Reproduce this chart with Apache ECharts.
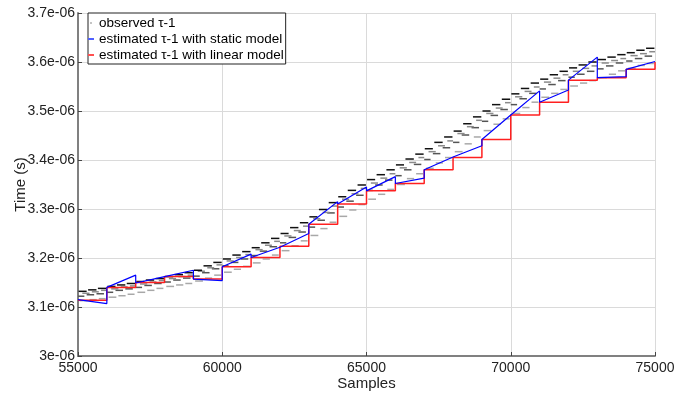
<!DOCTYPE html>
<html>
<head>
<meta charset="utf-8">
<script src="https://cdn.jsdelivr.net/npm/echarts@6/dist/echarts.min.js"></script>
<style>html,body{margin:0;padding:0;background:#fff;}#c{width:689px;height:397px;}</style>
</head>
<body>
<div id="c"></div>
<script>
// Values are in microseconds (axis labels show them as e-06 seconds)
const xTicks = [55000, 60000, 65000, 70000, 75000];
const yTicks = [3.0, 3.1, 3.2, 3.3, 3.4, 3.5, 3.6, 3.7];
const segBounds = [55000,56000,57000,58000,59000,60000,61000,62000,63000,64000,65000,66000,67000,68000,69000,70000,71000,72000,73000,74000,75000];
// linear model: constant value per segment (last value at 75000)
const linearModel = [3.114,3.140,3.150,3.162,3.157,3.182,3.201,3.224,3.269,3.310,3.337,3.352,3.380,3.405,3.442,3.492,3.518,3.563,3.568,3.585,3.600];
// static model: value at start and end of each segment
const staticStart = [3.115,3.140,3.149,3.162,3.157,3.182,3.201,3.224,3.269,3.310,3.337,3.352,3.380,3.405,3.442,3.492,3.518,3.563,3.568,3.585];
const staticEnd   = [3.107,3.165,3.162,3.175,3.154,3.208,3.222,3.250,3.315,3.345,3.366,3.363,3.406,3.429,3.492,3.541,3.543,3.610,3.570,3.601];

// observed: runs of equal values [firstSample, lastSample, value]
const observedDark = [
[55020,55300,3.132],[55350,55640,3.135],[55690,55980,3.138],
[56020,56300,3.142],[56350,56640,3.145],[56690,56980,3.148],
[57020,57300,3.152],[57350,57640,3.155],[57690,57980,3.158],
[58020,58300,3.162],[58350,58640,3.166],[58690,58980,3.170],
[59020,59300,3.175],[59350,59640,3.184],[59690,59980,3.191],
[60020,60300,3.198],[60350,60640,3.206],[60690,60980,3.213],
[61020,61300,3.221],[61350,61640,3.231],[61690,61980,3.240],
[62020,62300,3.250],[62350,62640,3.262],[62690,62980,3.272],
[63020,63300,3.284],[63350,63640,3.299],[63690,63980,3.313],
[64020,64300,3.325],[64350,64640,3.338],[64690,64980,3.349],
[65020,65300,3.360],[65350,65640,3.370],[65690,65980,3.380],
[66020,66300,3.390],[66350,66640,3.402],[66690,66980,3.412],
[67020,67300,3.423],[67350,67640,3.436],[67690,67980,3.447],
[68020,68300,3.459],[68350,68640,3.474],[68690,68980,3.488],
[69020,69300,3.500],[69350,69640,3.513],[69690,69980,3.524],
[70020,70300,3.535],[70350,70640,3.546],[70690,70980,3.557],
[71020,71300,3.565],[71350,71640,3.574],[71690,71980,3.581],
[72020,72300,3.588],[72350,72640,3.594],[72690,72980,3.600],
[73020,73300,3.605],[73350,73640,3.610],[73690,73980,3.615],
[74020,74300,3.619],[74350,74640,3.624],[74690,74980,3.628]
];
const observedGray = [
[55150,55400,3.128],[55480,55720,3.131],[55800,56000,3.134],
[56150,56400,3.137],[56480,56720,3.141],[56800,57000,3.143],
[57150,57400,3.147],[57480,57720,3.151],[57800,58000,3.154],
[58150,58400,3.158],[58480,58720,3.162],[58800,59000,3.165],
[59150,59400,3.173],[59480,59720,3.180],[59800,60000,3.186],
[60150,60400,3.194],[60480,60720,3.201],[60800,61000,3.207],
[61150,61400,3.217],[61480,61720,3.226],[61800,62000,3.234],
[62150,62400,3.245],[62480,62720,3.256],[62800,63000,3.265],
[63150,63400,3.280],[63480,63720,3.293],[63800,64000,3.306],
[64150,64400,3.320],[64480,64720,3.331],[64800,65000,3.342],
[65150,65400,3.353],[65480,65720,3.363],[65800,66000,3.372],
[66150,66400,3.384],[66480,66720,3.395],[66800,67000,3.405],
[67150,67400,3.417],[67480,67720,3.429],[67800,68000,3.439],
[68150,68400,3.454],[68480,68720,3.468],[68800,69000,3.481],
[69150,69400,3.495],[69480,69720,3.506],[69800,70000,3.517],
[70150,70400,3.529],[70480,70720,3.540],[70800,71000,3.549],
[71150,71400,3.559],[71480,71720,3.567],[71800,72000,3.574],
[72150,72400,3.581],[72480,72720,3.587],[72800,73000,3.592],
[73150,73400,3.598],[73480,73720,3.603],[73800,74000,3.607],
[74150,74400,3.613],[74480,74720,3.617],[74800,75000,3.621]
];
const observedMid = [
[55000,55220,3.122],[55300,55560,3.125],[55640,55900,3.127],
[56000,56220,3.130],[56300,56560,3.134],[56640,56900,3.137],
[57000,57220,3.140],[57300,57560,3.144],[57640,57900,3.148],
[58000,58220,3.151],[58300,58560,3.155],[58640,58900,3.159],
[59000,59220,3.163],[59300,59560,3.170],[59640,59900,3.178],
[60000,60220,3.184],[60300,60560,3.191],[60640,60900,3.198],
[61000,61220,3.205],[61300,61560,3.214],[61640,61900,3.223],
[62000,62220,3.231],[62300,62560,3.242],[62640,62900,3.253],
[63000,63220,3.263],[63300,63560,3.277],[63640,63900,3.292],
[64000,64220,3.304],[64300,64560,3.316],[64640,64900,3.328],
[65000,65220,3.338],[65300,65560,3.349],[65640,65900,3.359],
[66000,66220,3.368],[66300,66560,3.380],[66640,66900,3.391],
[67000,67220,3.401],[67300,67560,3.413],[67640,67900,3.425],
[68000,68220,3.436],[68300,68560,3.451],[68640,68900,3.466],
[69000,69220,3.479],[69300,69560,3.491],[69640,69900,3.503],
[70000,70220,3.513],[70300,70560,3.525],[70640,70900,3.536],
[71000,71220,3.545],[71300,71560,3.554],[71640,71900,3.562],
[72000,72220,3.569],[72300,72560,3.575],[72640,72900,3.581],
[73000,73220,3.586],[73300,73560,3.592],[73640,73900,3.598],
[74000,74220,3.602],[74300,74560,3.607],[74640,74900,3.612]
];
const observedLight = [
[55060,55330,3.113],[55400,55650,3.115],[55720,55960,3.117],
[56060,56330,3.120],[56400,56650,3.123],[56720,56960,3.126],
[57060,57330,3.130],[57400,57650,3.134],[57720,57960,3.138],
[58060,58330,3.142],[58400,58650,3.145],[58720,58960,3.148],
[59060,59330,3.153],[59400,59650,3.159],[59720,59960,3.165],
[60060,60330,3.171],[60400,60650,3.177],[60720,60960,3.183],
[61060,61330,3.190],[61400,61650,3.198],[61720,61960,3.206],
[62060,62330,3.215],[62400,62650,3.225],[62720,62960,3.235],
[63060,63330,3.246],[63400,63650,3.260],[63720,63960,3.273],
[64060,64330,3.285],[64400,64650,3.298],[64720,64960,3.309],
[65060,65330,3.320],[65400,65650,3.330],[65720,65960,3.340],
[66060,66330,3.350],[66400,66650,3.362],[66720,66960,3.372],
[67060,67330,3.383],[67400,67650,3.394],[67720,67960,3.405],
[68060,68330,3.417],[68400,68650,3.433],[68720,68960,3.447],
[69060,69330,3.460],[69400,69650,3.473],[69720,69960,3.484],
[70060,70330,3.495],[70400,70650,3.507],[70720,70960,3.518],
[71060,71330,3.528],[71400,71650,3.536],[71720,71960,3.544],
[72060,72330,3.551],[72400,72650,3.557],[72720,72960,3.562],
[73060,73330,3.568],[73400,73650,3.575],[73720,73960,3.582],
[74060,74330,3.587],[74400,74650,3.593],[74720,74960,3.597]
];

const NAME_OBS = 'observed τ-1';
const NAME_STATIC = 'estimated τ-1 with static model';
const NAME_LINEAR = 'estimated τ-1 with linear model';

const redData = segBounds.map((s, i) => [s, linearModel[i]]);
const blueData = [];
for (let i = 0; i < staticStart.length; i++) {
  blueData.push([segBounds[i], staticStart[i]]);
  blueData.push([segBounds[i + 1], staticEnd[i]]);
}

function dashSeries(data, color) {
  return {
    type: 'custom', name: NAME_OBS, data: data, clip: true, z: 2,
    encode: { x: [0, 1], y: 2 },
    renderItem: function (params, api) {
      const p0 = api.coord([api.value(0), api.value(2)]);
      const p1 = api.coord([api.value(1), api.value(2)]);
      return { type: 'line', shape: { x1: p0[0], y1: p0[1], x2: p1[0], y2: p1[1] },
               style: { stroke: color, lineWidth: 1.5 } };
    }
  };
}

const font = 'Liberation Sans, Arial, Helvetica, sans-serif';
const chart = echarts.init(document.getElementById('c'), null, { renderer: 'canvas' });
chart.setOption({
  animation: false,
  backgroundColor: '#fff',
  grid: { left: 78, right: 34, top: 13, bottom: 41, containLabel: false },
  legend: {
    left: 88, top: 13, orient: 'vertical',
    backgroundColor: '#fff', borderColor: '#222', borderWidth: 1,
    padding: [3, 2, 2, 0], itemGap: 2, itemWidth: 6, itemHeight: 2,
    selectedMode: false,
    textStyle: { fontFamily: font, fontSize: 13.5, color: '#000', lineHeight: 14 },
    data: [
      { name: NAME_OBS, icon: 'circle', itemStyle: { color: '#b0b0b0' } },
      { name: NAME_STATIC, icon: 'rect', itemStyle: { color: '#5060ff' } },
      { name: NAME_LINEAR, icon: 'rect', itemStyle: { color: '#ff5050' } }
    ]
  },
  xAxis: {
    type: 'value', min: xTicks[0], max: xTicks[xTicks.length - 1], interval: 5000,
    name: 'Samples', nameLocation: 'middle', nameGap: 20, nameMoveOverlap: false,
    nameTextStyle: { fontFamily: font, fontSize: 15, color: '#222' },
    axisLine: { onZero: false, lineStyle: { color: '#808080', width: 2 } },
    axisTick: { inside: true, length: 4, lineStyle: { color: '#444' } },
    axisLabel: { fontFamily: font, fontSize: 14, color: '#222', margin: 5,
      formatter: function (v) { return String(v); } },
    splitLine: { show: true, lineStyle: { color: '#dadada', width: 1 } }
  },
  yAxis: {
    type: 'value', min: yTicks[0], max: yTicks[yTicks.length - 1], interval: 0.1,
    name: 'Time (s)', nameLocation: 'middle', nameGap: 50, nameRotate: 90, nameMoveOverlap: false,
    nameTextStyle: { fontFamily: font, fontSize: 15, color: '#222' },
    axisLine: { show: true, onZero: false, lineStyle: { color: '#808080', width: 2 } },
    axisTick: { show: true, inside: true, length: 4, lineStyle: { color: '#444' } },
    axisLabel: { fontFamily: font, fontSize: 14, color: '#222', margin: 3,
      formatter: function (v) { return (Math.abs(v - 3) < 1e-9 ? '3' : v.toFixed(1)) + 'e-06'; } },
    splitLine: { show: true, lineStyle: { color: '#dadada', width: 1 } }
  },
  series: [
    dashSeries(observedLight, '#a8a8a8'),
    dashSeries(observedMid, '#555555'),
    dashSeries(observedGray, '#8a8a8a'),
    dashSeries(observedDark, '#111111'),
    { type: 'line', name: NAME_LINEAR, data: redData, step: 'end', showSymbol: false, z: 3,
      lineStyle: { color: '#ff2020', width: 1.5 }, itemStyle: { color: '#ff5050' } },
    { type: 'line', name: NAME_STATIC, data: blueData, showSymbol: false, z: 4,
      lineStyle: { color: '#0000ff', width: 1.2 }, itemStyle: { color: '#5060ff' } }
  ]
});
</script>
</body>
</html>
